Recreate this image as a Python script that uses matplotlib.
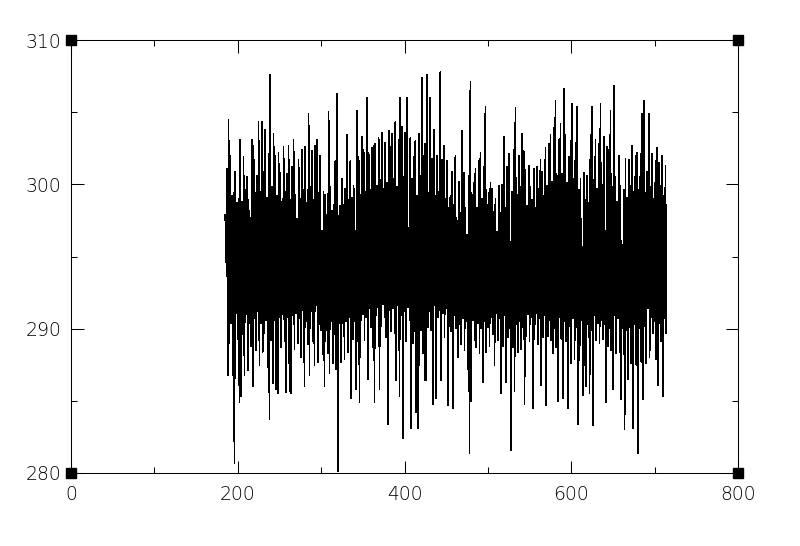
import numpy as np
import matplotlib
matplotlib.use("Agg")
import matplotlib.pyplot as plt
from matplotlib.ticker import MultipleLocator

x_start = 185

upper = [
    297.9, 301.1, 304.5, 302.0, 299.2, 299.4, 300.9, 298.7, 299.0, 303.1,
    298.8, 301.9, 299.6, 300.5, 298.9, 297.7, 303.1, 302.7, 299.4, 300.6,
    304.3, 299.5, 304.3, 300.9, 303.8, 299.1, 302.1, 307.6, 299.8, 303.5,
    302.0, 299.2, 302.2, 300.8, 298.8, 302.6, 299.5, 300.7, 302.7, 298.9,
    301.2, 303.1, 299.3, 297.6, 301.7, 299.0, 302.4, 299.6, 302.6, 298.7,
    304.9, 299.8, 302.3, 298.9, 302.7, 303.1, 299.4, 302.0, 296.8, 299.5,
    299.3, 297.9, 305.0, 299.8, 298.2, 298.6, 301.6, 306.3, 297.8, 298.5,
    300.4, 298.6, 299.7, 303.4, 298.9, 301.6, 299.1, 299.9, 296.8, 305.1,
    301.9, 299.3, 303.3, 302.4, 299.5, 306.0, 302.2, 299.6, 302.5, 302.7,
    302.8, 299.9, 303.2, 300.3, 303.6, 299.7, 302.9, 300.1, 303.7, 302.6,
    303.5, 300.4, 304.3, 299.8, 303.1, 306.0, 304.0, 300.5, 303.6, 306.0,
    297.0, 303.2, 300.4, 301.9, 303.0, 299.2, 303.5, 300.6, 307.4, 302.0,
    302.8, 307.6, 299.4, 306.0, 301.8, 303.8, 299.2, 302.0, 299.5, 307.8,
    301.7, 302.7, 299.0, 301.6, 298.4, 299.2, 300.9, 298.6, 302.0, 297.5,
    300.2, 298.0, 303.7, 300.8, 298.4, 296.5, 300.6, 307.1, 299.3, 300.1,
    301.1, 298.4, 301.6, 302.2, 299.0, 301.2, 305.4, 298.6, 299.4, 300.1,
    299.7, 298.1, 299.0, 296.7, 299.9, 298.0, 300.0, 303.3, 298.4, 301.2,
    302.1, 296.0, 299.5, 302.4, 305.3, 299.3, 302.0, 299.8, 303.5, 302.3,
    301.0, 298.5, 301.3, 299.8, 298.9, 301.1, 298.4, 301.2, 299.7, 301.7,
    300.9, 299.2, 302.5, 299.9, 302.8, 303.4, 300.2, 303.9, 305.8, 300.6,
    303.1, 304.2, 300.7, 306.6, 303.4, 300.1, 301.9, 303.0, 305.6, 300.4,
    302.9, 305.4, 299.6, 300.4, 295.7, 300.8, 298.9, 300.6, 298.7, 303.4,
    305.4, 300.3, 303.1, 299.7, 302.8, 305.6, 300.0, 303.3, 296.8, 302.6,
    302.4, 305.1, 299.8, 306.8, 300.5, 298.8, 302.0, 299.9, 295.8, 299.6,
    301.8, 299.1, 301.7, 299.9, 302.7, 299.5, 302.0, 302.2, 299.6, 302.1,
    304.9, 305.8, 299.4, 300.9, 304.9, 299.8, 302.1, 299.0, 301.6, 302.5,
    301.5, 299.9, 302.0, 299.2, 301.3,
]

lower = [
    294.6, 286.8, 289.0, 290.4, 286.8, 280.7, 291.1, 289.3, 284.9, 285.3,
    289.6, 286.8, 291.0, 287.1, 290.4, 288.8, 286.0, 290.7, 288.5, 291.2,
    287.5, 290.4, 288.4, 289.7, 290.6, 287.3, 283.7, 289.2, 286.2, 290.6,
    285.8, 285.5, 290.8, 288.7, 291.0, 289.1, 285.6, 290.8, 285.7, 285.5,
    290.9, 288.6, 291.1, 289.0, 290.7, 288.0, 291.3, 286.0, 290.5, 288.9,
    286.8, 291.2, 289.1, 287.5, 291.6, 287.7, 290.3, 289.9, 288.2, 286.0,
    289.9, 288.3, 286.9, 290.5, 287.6, 289.6, 287.2, 280.1, 290.4, 287.7,
    290.4, 287.9, 290.5, 288.4, 290.8, 285.2, 289.3, 290.5, 285.8, 289.1,
    284.9, 290.6, 291.0, 289.2, 290.8, 286.5, 291.4, 290.1, 288.7, 284.9,
    290.9, 291.5, 285.8, 290.2, 291.7, 290.8, 289.4, 283.4, 291.3, 289.8,
    291.4, 289.7, 286.4, 291.6, 285.3, 290.9, 282.4, 291.2, 289.1, 291.5,
    290.6, 283.1, 289.0, 289.8, 284.2, 283.1, 287.5, 289.9, 288.3, 286.4,
    286.4, 290.1, 291.2, 289.9, 284.8, 291.6, 285.2, 290.8, 291.3, 286.4,
    291.1, 289.4, 291.4, 284.7, 290.2, 289.8, 284.5, 290.9, 290.0, 288.0,
    290.3, 288.9, 290.7, 288.5, 290.5, 287.2, 281.4, 285.0, 290.6, 289.2,
    288.7, 290.4, 288.3, 290.0, 286.3, 290.5, 288.4, 290.1, 288.8, 290.8,
    289.6, 287.5, 291.1, 289.2, 290.7, 285.5, 288.8, 290.9, 286.3, 289.4,
    290.0, 281.6, 288.7, 285.7, 290.3, 288.4, 290.5, 288.6, 290.1, 284.8,
    289.5, 291.0, 289.1, 290.8, 284.5, 289.3, 291.1, 288.9, 290.7, 286.1,
    289.4, 290.9, 284.7, 289.5, 290.6, 289.2, 288.3, 290.0, 288.7, 285.0,
    290.8, 289.3, 285.2, 290.5, 289.1, 284.5, 290.2, 287.6, 290.7, 287.9,
    290.1, 283.4, 287.8, 290.6, 285.4, 287.5, 286.0, 290.3, 285.5, 289.9,
    283.3, 290.9, 289.2, 290.4, 289.0, 290.6, 289.3, 290.3, 284.9, 288.8,
    290.0, 288.5, 285.8, 290.9, 288.3, 290.7, 288.4, 285.1, 290.8, 283.0,
    289.9, 286.5, 290.1, 287.6, 283.1, 290.3, 287.5, 281.4, 290.0, 287.7,
    285.1, 290.2, 287.6, 291.4, 288.0, 290.8, 289.7, 290.5, 287.9, 286.1,
    290.4, 289.1, 285.3, 290.7, 289.7,
]

x_ticks = [0, 200, 400, 600, 800]
y_ticks = [280, 290, 300, 310]

series = np.empty(len(upper) + len(lower))
series[0::2] = upper
series[1::2] = lower
xs = np.arange(x_start, x_start + len(series))

fig = plt.figure(figsize=(8.0, 5.46), dpi=100)
ax = fig.add_axes([71 / 800, 1 - 473 / 546, (738 - 71) / 800, (473 - 40) / 546])

ax.plot(xs, series, color="black", lw=0.5, antialiased=False)

ax.set_xlim(0, 800)
ax.set_ylim(280, 310)
ax.set_xticks(x_ticks)
ax.set_yticks(y_ticks)
ax.xaxis.set_minor_locator(MultipleLocator(100))
ax.yaxis.set_minor_locator(MultipleLocator(5))
ax.tick_params(which="both", direction="in", top=True, right=True,
               width=0.75, colors="black", labelsize=13.5)
ax.tick_params(which="major", length=9)
ax.tick_params(which="minor", length=4.5)
ax.tick_params(axis="x", which="major", pad=9)
ax.tick_params(axis="y", which="major", pad=7)
for lab in ax.get_xticklabels() + ax.get_yticklabels():
    lab.set_fontweight("light")
for s in ax.spines.values():
    s.set_linewidth(0.75)

# corner square markers
ax.plot([0, 800, 0, 800], [280, 280, 310, 310], "s", ms=7, color="black",
        clip_on=False, zorder=5)

fig.savefig("out.png", dpi=100)
